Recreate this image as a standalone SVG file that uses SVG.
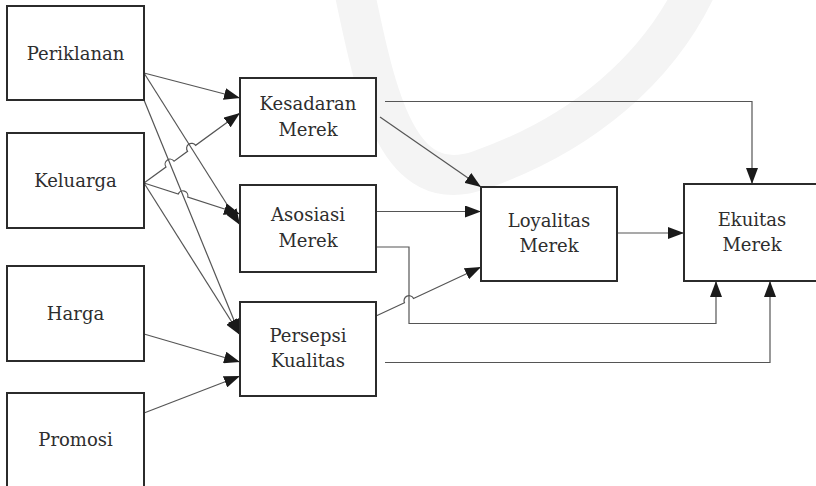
<svg xmlns="http://www.w3.org/2000/svg" width="816" height="486" viewBox="0 0 816 486">
  <style>
    .box { fill: #ffffff; stroke: #2b2b2b; stroke-width: 2; }
    .lbl { font-family: "DejaVu Serif", "Liberation Serif", serif; font-size: 18px; fill: #2e2e2e; text-anchor: middle; }
    .ln { fill: none; stroke: #555555; stroke-width: 1.2; }
    .arr { marker-end: url(#ah); }
  </style>
  <defs>
    <marker id="ah" viewBox="0 0 16 12" refX="16" refY="6" markerWidth="16" markerHeight="12" markerUnits="userSpaceOnUse" orient="auto">
      <path d="M0,0 L16,6 L0,12 Z" fill="#1a1a1a"/>
    </marker>
  </defs>

  <rect width="816" height="486" fill="#ffffff"/>

  <!-- faint background band -->
  <path d="M 352 -20 C 375 90, 395 200, 480 170 C 580 135, 660 70, 700 -20" fill="none" stroke="#f4f4f4" stroke-width="40"/>

  <!-- connectors -->
  <g id="connectors">
    <!-- Periklanan -->
    <path class="ln arr" d="M144,73 L240,98"/>
    <path class="ln arr" d="M144,73 L240,225"/>
    <path class="ln arr" d="M144,100 L240,335"/>
    <!-- Keluarga (with line hops) -->
    <path class="ln arr" d="M144,183 L165.96,166.99 A5,5 0 0 1 174.04,161.11 L187.56,151.25 A5,5 0 0 1 195.64,145.35 L240,113"/>
    <path class="ln arr" d="M144,183 L178.25,194.07 A5,5 0 0 1 187.75,197.14 L240,214"/>
    <path class="ln arr" d="M144,183 L240,335"/>
    <!-- Harga, Promosi -->
    <path class="ln arr" d="M144,334 L240,362"/>
    <path class="ln arr" d="M144,413 L240,376"/>
    <!-- middle column to Loyalitas / Ekuitas -->
    <path class="ln arr" d="M385,101.5 H752 V184"/>
    <path class="ln arr" d="M380,117 L481,187"/>
    <path class="ln arr" d="M376,211.5 H481"/>
    <path class="ln arr" d="M376,247 H409 V323.5 H716 V281"/>
    <path class="ln arr" d="M376,316 L404.47,302.72 A5,5 0 0 1 413.53,298.49 L481,267"/>
    <path class="ln arr" d="M385,362.5 H770 V281"/>
    <path class="ln arr" d="M617,233 H684"/>
  </g>

  <!-- nodes -->
  <g id="periklanan">
    <rect class="box" x="7" y="6" width="137" height="94"/>
    <text class="lbl" x="75.5" y="60">Periklanan</text>
  </g>
  <g id="keluarga">
    <rect class="box" x="7" y="133" width="137" height="95"/>
    <text class="lbl" x="75.5" y="187">Keluarga</text>
  </g>
  <g id="harga">
    <rect class="box" x="7" y="266" width="137" height="95"/>
    <text class="lbl" x="75.5" y="320">Harga</text>
  </g>
  <g id="promosi">
    <rect class="box" x="7" y="393" width="137" height="100"/>
    <text class="lbl" x="75.5" y="446">Promosi</text>
  </g>
  <g id="kesadaran-merek">
    <rect class="box" x="240" y="78" width="136" height="78"/>
    <text class="lbl" x="308" y="110">Kesadaran</text>
    <text class="lbl" x="308" y="136">Merek</text>
  </g>
  <g id="asosiasi-merek">
    <rect class="box" x="240" y="185" width="136" height="87"/>
    <text class="lbl" x="308" y="221">Asosiasi</text>
    <text class="lbl" x="308" y="247">Merek</text>
  </g>
  <g id="persepsi-kualitas">
    <rect class="box" x="240" y="302" width="136" height="94"/>
    <text class="lbl" x="308" y="341.5">Persepsi</text>
    <text class="lbl" x="308" y="367">Kualitas</text>
  </g>
  <g id="loyalitas-merek">
    <rect class="box" x="481" y="187" width="136" height="94"/>
    <text class="lbl" x="549" y="227">Loyalitas</text>
    <text class="lbl" x="549" y="252">Merek</text>
  </g>
  <g id="ekuitas-merek">
    <rect class="box" x="684" y="184" width="140" height="97"/>
    <text class="lbl" x="752" y="226">Ekuitas</text>
    <text class="lbl" x="752" y="251">Merek</text>
  </g>
</svg>
